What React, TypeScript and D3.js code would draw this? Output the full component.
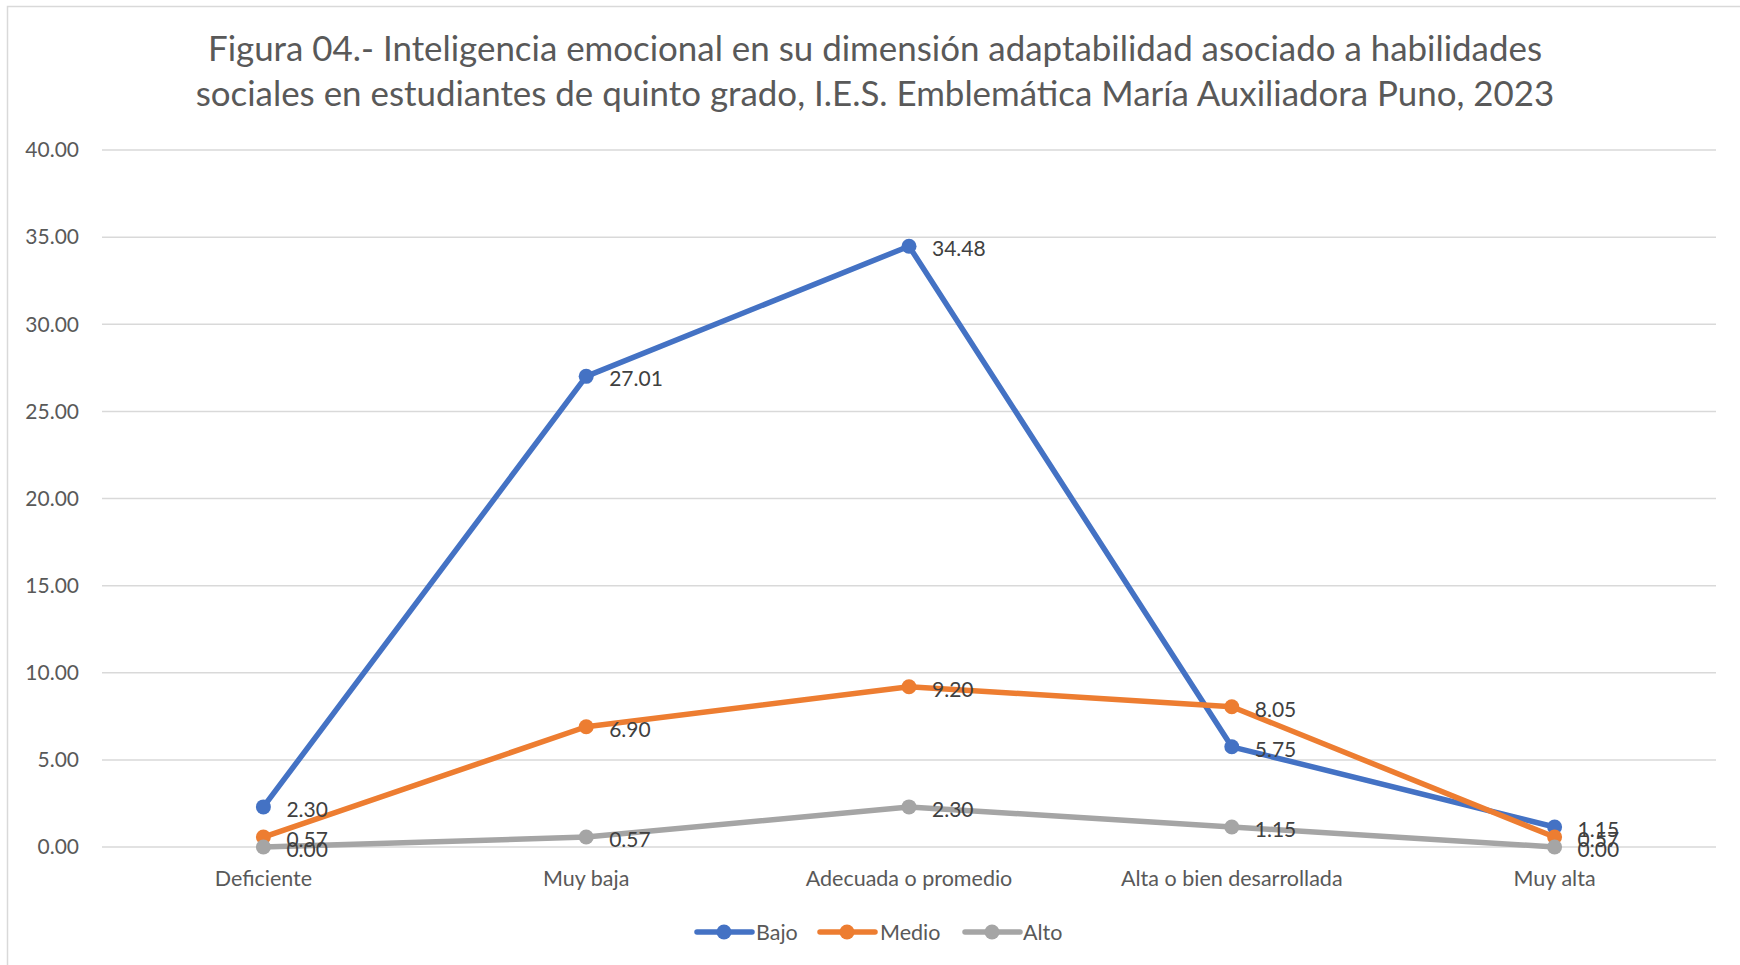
import React from "react";
import * as d3 from "d3";

const categories = ["Deficiente", "Muy baja", "Adecuada o promedio", "Alta o bien desarrollada", "Muy alta"];
const bajo = [2.30, 27.01, 34.48, 5.75, 1.15];
const medio = [0.57, 6.90, 9.20, 8.05, 0.57];
const alto = [0.00, 0.57, 2.30, 1.15, 0.00];
const yTicks = [0, 5, 10, 15, 20, 25, 30, 35, 40];
const seriesNames = ["Bajo", "Medio", "Alto"];
const seriesColors = ["#4472C4", "#ED7D31", "#A5A5A5"];
const titleLines = [
  "Figura 04.- Inteligencia emocional en su dimensión adaptabilidad asociado a habilidades",
  "sociales en estudiantes de quinto grado, I.E.S. Emblemática María Auxiliadora Puno, 2023",
];

const W = 1740;
const H = 965;
const FONT = "Lato, 'Open Sans', sans-serif";
const TXT = "#595959";

export default function App() {
  const series = [bajo, medio, alto];
  const x = d3.scaleBand<string>().domain(categories).range([102, 1716]);
  const y = d3.scaleLinear().domain([0, 40]).range([847, 150]);
  const cx = (c: string) => (x(c) as number) + x.bandwidth() / 2;
  const line = d3
    .line<number>()
    .x((_, i) => cx(categories[i]))
    .y((d) => y(d));

  const legendItems = [
    { x0: 697, tx: 756 },
    { x0: 820, tx: 880 },
    { x0: 965, tx: 1023 },
  ];

  return (
    <svg
      width={W}
      height={H}
      style={{ position: "absolute", left: 0, top: 0, background: "#fff" }}
      fontFamily={FONT}
    >
      <rect x={7.5} y={6.5} width={W} height={H} fill="#fff" stroke="#D9D9D9" strokeWidth={1.5} />
      {titleLines.map((t, i) => (
        <text
          key={i}
          x={875}
          y={61 + i * 45}
          textAnchor="middle"
          fontSize={34.9}
          fill={TXT}
        >
          {t}
        </text>
      ))}
      {yTicks.map((t) => (
        <g key={t}>
          <line x1={102} x2={1716} y1={y(t)} y2={y(t)} stroke="#D9D9D9" strokeWidth={1.5} />
          <text x={79} y={y(t)} dy="0.35em" textAnchor="end" fontSize={21} fill={TXT}>
            {t.toFixed(2)}
          </text>
        </g>
      ))}
      {categories.map((c) => (
        <text key={c} x={cx(c)} y={886} textAnchor="middle" fontSize={21.5} fill={TXT}>
          {c}
        </text>
      ))}
      {series.map((s, k) => (
        <g key={k}>
          <path d={line(s) || ""} fill="none" stroke={seriesColors[k]} strokeWidth={5.5} strokeLinejoin="round" strokeLinecap="round" />
          {s.map((v, i) => (
            <circle key={i} cx={cx(categories[i])} cy={y(v)} r={7.5} fill={seriesColors[k]} />
          ))}
        </g>
      ))}
      {series.map((s, k) => (
        <g key={"l" + k}>
          {s.map((v, i) => (
            <text key={i} x={cx(categories[i]) + 23} y={y(v) + 2.5} dy="0.35em" fontSize={21} fill="#404040">
              {v.toFixed(2)}
            </text>
          ))}
        </g>
      ))}
      {legendItems.map((it, k) => (
        <g key={k}>
          <line x1={it.x0} x2={it.x0 + 55} y1={932} y2={932} stroke={seriesColors[k]} strokeWidth={5.5} strokeLinecap="round" />
          <circle cx={it.x0 + 27} cy={932} r={7.5} fill={seriesColors[k]} />
          <text x={it.tx} y={932} dy="0.35em" fontSize={21.5} fill={TXT}>
            {seriesNames[k]}
          </text>
        </g>
      ))}
    </svg>
  );
}
